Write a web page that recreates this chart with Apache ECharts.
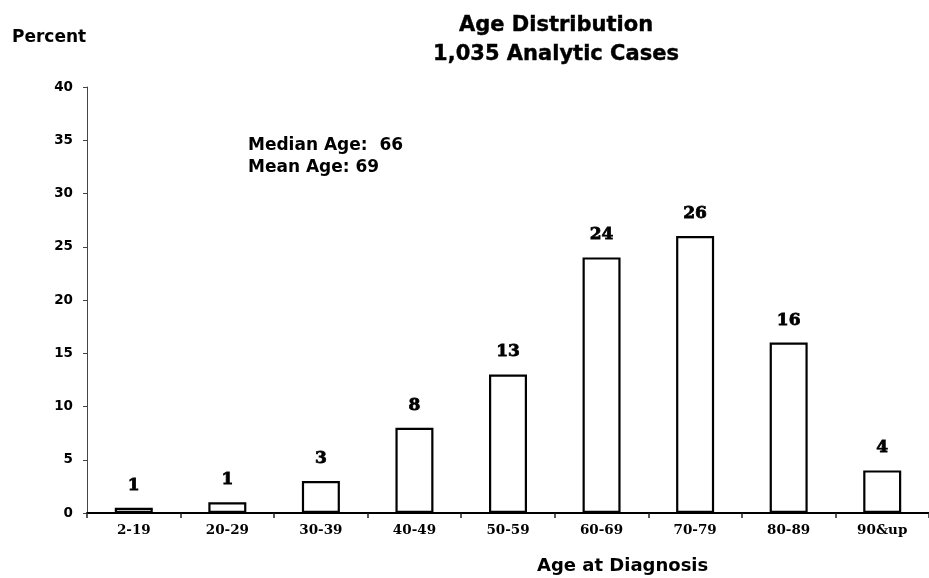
<!DOCTYPE html>
<html>
<head>
<meta charset="utf-8">
<script src="https://cdn.jsdelivr.net/npm/echarts@6/dist/echarts.min.js"></script>
<style>
  html, body { margin: 0; padding: 0; background: #fff; }
  #chart { width: 929px; height: 578px; }
</style>
</head>
<body>
<div id="chart"></div>
<script>
// Age groups at diagnosis
const ageGroups = ['2-19', '20-29', '30-39', '40-49', '50-59', '60-69', '70-79', '80-89', '90&up'];
// Percent of analytic cases in each age group
const percentValues = [0.5, 1, 3, 8, 13, 24, 26, 16, 4];
// Y axis scale
const yMin = 0, yMax = 40, yStep = 5;

const titleLines = ['Age Distribution', '1,035 Analytic Cases'];
const summaryLines = ['Median Age:  66', 'Mean Age: 69'];

const chart = echarts.init(document.getElementById('chart'), null, { renderer: 'canvas' });

const sans = '"DejaVu Sans", "Liberation Sans", Arial, sans-serif';
const serif = '"DejaVu Serif", serif';

chart.setOption({
  animation: false,
  backgroundColor: '#ffffff',
  title: {
    text: titleLines.join('\n'),
    left: 551,
    top: 6,
    textAlign: 'center',
    textStyle: {
      fontFamily: sans, fontWeight: 'bold', fontSize: 21, lineHeight: 29, color: '#000',
      textBorderColor: '#000', textBorderWidth: 0.4
    }
  },
  grid: { left: 87, right: -7, top: 87, bottom: 65, containLabel: false },
  xAxis: {
    type: 'category',
    data: ageGroups,
    boundaryGap: true,
    axisLine: { show: true, lineStyle: { color: '#000', width: 2 } },
    axisTick: { show: true, length: 5, lineStyle: { color: '#222', width: 1.5 } },
    axisLabel: {
      margin: 10, color: '#000', fontFamily: serif, fontWeight: 'bold', fontSize: 13.5
    }
  },
  yAxis: {
    type: 'value',
    min: yMin, max: yMax, interval: yStep,
    splitLine: { show: false },
    axisLine: { show: true, lineStyle: { color: '#444', width: 1 } },
    axisTick: { show: true, length: 4, lineStyle: { color: '#444' } },
    axisLabel: {
      margin: 14, color: '#000', fontFamily: sans, fontWeight: 'bold', fontSize: 13.5
    }
  },
  series: [{
    type: 'bar',
    data: percentValues,
    barWidth: 38,
    itemStyle: { color: '#ffffff', borderColor: '#000', borderWidth: 2.2 },
    label: {
      show: true,
      position: 'top',
      distance: 14,
      formatter: p => String(Math.round(p.value)),
      color: '#000', fontFamily: serif, fontWeight: 'bold', fontSize: 17,
      textBorderColor: '#000', textBorderWidth: 0.8
    }
  }],
  graphic: [
    {
      type: 'text', left: 12, top: 29,
      style: { text: 'Percent', font: 'bold 17px ' + sans, fill: '#000' }
    },
    {
      type: 'text', left: 248, top: 135,
      style: { text: summaryLines.join('\n'), font: 'bold 17px ' + sans, lineHeight: 22, fill: '#000' }
    },
    {
      type: 'text', left: 537, top: 557,
      style: { text: 'Age at Diagnosis', font: 'bold 18px ' + sans, fill: '#000' }
    }
  ]
});
</script>
</body>
</html>
